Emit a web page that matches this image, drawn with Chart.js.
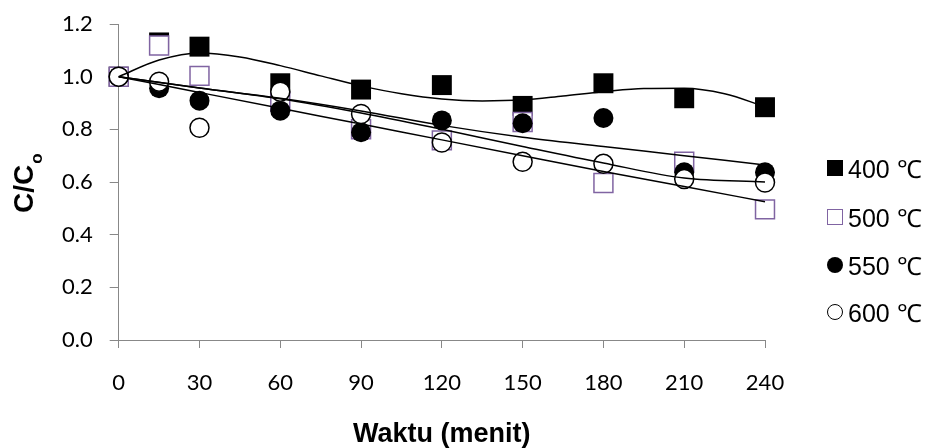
<!DOCTYPE html>
<html>
<head>
<meta charset="utf-8">
<script src="https://cdn.jsdelivr.net/npm/chart.js@4.4.1/dist/chart.umd.min.js"></script>
<style>
    html, body { margin: 0; padding: 0; background: #fff; }
    #wrap { position: relative; width: 931px; height: 448px; }
    #legend { position: absolute; left: 827px; top: 0; font-family: 'Liberation Sans', Arial, sans-serif; font-size: 25px; color: #000; }
    .item { position: absolute; left: 0; height: 30px; display: flex; align-items: center; white-space: nowrap; }
    .mk { width: 16px; height: 16px; box-sizing: border-box; margin-right: 5px; flex: none; }
</style>
</head>
<body>
<div id="wrap">
    <canvas id="chart" width="931" height="448"></canvas>
    <div id="legend"></div>
</div>
<script>
// sampling times (menit)
const times = [0, 15, 30, 60, 90, 120, 150, 180, 210, 240];

// measured C/Co per temperature
const c400 = [1.00, 1.13, 1.114, 0.975, 0.951, 0.968, 0.889, 0.975, 0.918, 0.884];
const c500 = [1.00, 1.118, 1.003, 0.905, 0.80, 0.758, 0.828, 0.596, 0.677, 0.496];
const c550 = [1.00, 0.956, 0.909, 0.871, 0.789, 0.834, 0.823, 0.843, 0.637, 0.637];
const c600 = [1.00, 0.981, 0.806, 0.943, 0.858, 0.750, 0.677, 0.669, 0.611, 0.598];

// trendlines
const trendTimes400 = [0, 15, 30, 45, 60, 75, 90, 105, 120, 135, 150, 165, 180, 195, 210, 225, 240];
const trend400 = [1.0, 1.063, 1.09, 1.075, 1.042, 1.003, 0.965, 0.935, 0.915, 0.908, 0.912, 0.927, 0.943, 0.955, 0.956, 0.935, 0.886];
const trendTimes = [0, 30, 60, 90, 120, 150, 180, 210, 240];
const trend500 = [1.0, 0.94, 0.88, 0.82, 0.76, 0.70, 0.64, 0.583, 0.525];
const trend550 = [1.0, 0.957, 0.918, 0.87, 0.815, 0.77, 0.735, 0.70, 0.665];
const trend600 = [1.0, 0.957, 0.916, 0.862, 0.80, 0.735, 0.672, 0.615, 0.600];

const seriesLabels = ['400 \u2103', '500 \u2103', '550 \u2103', '600 \u2103'];
const xTitle = 'Waktu (menit)';
const yTitleMain = 'C/C';
const yTitleSub = 'o';

const purple = '#8064A2';

function pts(xs, ys) {
    return xs.map(function(x, i) { return { x: x, y: ys[i] }; });
}

function trend(xs, ys) {
    return {
        data: pts(xs, ys),
        showLine: true,
        pointRadius: 0,
        borderColor: '#000',
        borderWidth: 1.5,
        cubicInterpolationMode: 'monotone',
        fill: false,
        clip: false,
        order: 0
    };
}

const datasets = [
    { data: pts(times, c400), pointStyle: 'rect', pointRadius: 14.1, backgroundColor: '#000', borderColor: '#000', borderWidth: 0, clip: false, order: 4 },
    { data: pts(times, c500), pointStyle: 'rect', pointRadius: 13.4, backgroundColor: '#fff', borderColor: purple, borderWidth: 1.5, clip: false, order: 3 },
    { data: pts(times, c550), pointStyle: 'circle', pointRadius: 10, backgroundColor: '#000', borderColor: '#000', borderWidth: 0, clip: false, order: 2 },
    { data: pts(times, c600), pointStyle: 'circle', pointRadius: 9.5, backgroundColor: '#fff', borderColor: '#000', borderWidth: 1.5, clip: false, order: 1 },
    trend(trendTimes400, trend400),
    trend(trendTimes, trend500),
    trend(trendTimes, trend550),
    trend(trendTimes, trend600)
];

// y title with subscript o
const yTitlePlugin = {
    id: 'yTitle',
    afterDraw(chart) {
        const ctx = chart.ctx;
        ctx.save();
        ctx.translate(33, 213);
        ctx.rotate(-Math.PI / 2);
        ctx.fillStyle = '#000';
        ctx.textBaseline = 'alphabetic';
        ctx.textAlign = 'left';
        ctx.font = 'bold 28px "Liberation Sans", Arial, sans-serif';
        ctx.fillText(yTitleMain, 0, 0);
        const w = ctx.measureText(yTitleMain).width;
        ctx.font = 'bold 17px "Liberation Sans", Arial, sans-serif';
        ctx.fillText(yTitleSub, w + 1, 9);
        ctx.restore();
    }
};

const tickFont = { family: 'Lato, "Open Sans", sans-serif', size: 22 };

new Chart(document.getElementById('chart'), {
    type: 'scatter',
    data: { datasets: datasets },
    options: {
        responsive: false,
        animation: false,
        devicePixelRatio: 1,
        events: [],
        layout: { autoPadding: false, padding: { top: 24, right: 166, bottom: 0, left: 0 } },
        plugins: { legend: { display: false }, tooltip: { enabled: false } },
        scales: {
            x: {
                type: 'linear',
                min: 0,
                max: 240,
                ticks: { stepSize: 30, color: '#000', font: tickFont, padding: 22, maxRotation: 0 },
                grid: { drawOnChartArea: false, drawTicks: true, tickLength: 8, color: '#888' },
                border: { color: '#888', width: 1 },
                title: {
                    display: true,
                    text: xTitle,
                    color: '#000',
                    font: { family: '"Liberation Sans", Arial, sans-serif', size: 27, weight: 'bold', lineHeight: 1 },
                    padding: { top: 0, bottom: 0 }
                },
                afterFit: function(scale) { scale.height = 108; }
            },
            y: {
                min: 0,
                max: 1.2,
                ticks: {
                    stepSize: 0.2,
                    color: '#000',
                    font: tickFont,
                    padding: 17,
                    callback: function(v) { return Number(v).toFixed(1); }
                },
                grid: { drawOnChartArea: false, drawTicks: true, tickLength: 9, color: '#888' },
                border: { color: '#888', width: 1 },
                afterFit: function(scale) {
                    scale.width = 118.7;
                    // let the layout padding alone decide the top edge
                    scale.paddingTop = 14;
                    scale.paddingBottom = 14;
                }
            }
        }
    },
    plugins: [yTitlePlugin]
});

// legend, built from the series list
const legendEl = document.getElementById('legend');
const legendRows = [168, 217, 265, 312];
const markerCss = [
    'background:#000;',
    'background:#fff;border:1.5px solid ' + purple + ';',
    'background:#000;border-radius:50%;',
    'background:#fff;border:1.5px solid #000;border-radius:50%;'
];
seriesLabels.forEach(function(label, i) {
    const item = document.createElement('div');
    item.className = 'item';
    item.style.top = (legendRows[i] - 15) + 'px';
    const mk = document.createElement('span');
    mk.className = 'mk';
    mk.style.cssText = markerCss[i];
    const txt = document.createElement('span');
    txt.textContent = label;
    item.appendChild(mk);
    item.appendChild(txt);
    legendEl.appendChild(item);
});
</script>
</body>
</html>
